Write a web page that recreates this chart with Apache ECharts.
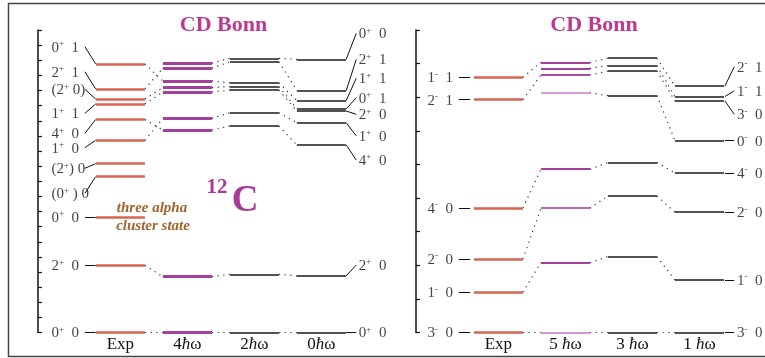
<!DOCTYPE html>
<html>
<head>
<meta charset="utf-8">
<script src="https://cdn.jsdelivr.net/npm/echarts@6/dist/echarts.min.js"></script>
<style>
html,body{margin:0;padding:0;background:#fff;}
#chart{width:765px;height:358px;}
</style>
</head>
<body>
<div id="chart"></div>
<script>
// positive parity levels of 12C, excitation energy in MeV
let colsPos = ['Exp', '4{h|ħ}ω', '2{h|ħ}ω', '0{h|ħ}ω'];
let expPos = [17.76, 16.11, 15.44, 15.11, 14.08, 12.71, 11.16, 10.30, 7.65, 4.44, 0];
let fourPos = [17.80, 17.47, 16.63, 16.19, 15.90, 14.16, 13.39, 3.69, 0];
let twoPos = [18.13, 17.90, 16.50, 16.26, 16.03, 14.53, 13.65, 3.85, 0];
let zeroPos = [18.06, 15.99, 15.33, 14.78, 14.64, 13.87, 12.40, 3.74, 0];
let expPosLab = ['0+  1', '2+  1', '(2+ 0)', '1+  1', '4+  0', '1+  0', '(2+) 0', '(0+ ) 0', '0+  0', '2+  0', '0+  0'];
let expPosLabE = [18.90, 17.24, 16.08, 14.49, 13.17, 12.22, 10.86, 9.20, 7.65, 4.44, 0];
let zeroPosLab = ['0+  0', '2+  1', '1+  1', '0+  1', '2+  0', '1+  0', '4+  0', '2+  0', '0+  0'];
let zeroPosLabE = [19.78, 18.06, 16.81, 15.52, 14.43, 13.00, 11.40, 4.46, 0];
// which level joins which in the next column
let linksPos = [
    [[0, 2], [1, 1], [2, 3], [3, 4], [4, 6], [5, 5], [9, 7], [10, 8]],
    [[0, 0], [1, 1], [2, 2], [3, 3], [4, 4], [5, 5], [6, 6], [7, 7], [8, 8]],
    [[0, 0], [1, 1], [2, 2], [3, 3], [4, 4], [5, 5], [6, 6], [7, 7], [8, 8]]
];

// negative parity levels, MeV above the 3- state
let colsNeg = ['Exp', '5 {h|ħ}ω', '3 {h|ħ}ω', '1 {h|ħ}ω'];
let expNeg = [7.59, 6.93, 3.71, 2.19, 1.20, 0];
let fiveNeg = [8.04, 7.86, 7.66, 7.13, 4.86, 3.70, 2.08, 0];
let threeNeg = [8.16, 7.94, 7.78, 7.05, 5.06, 4.06, 2.26, 0];
let oneNeg = [7.33, 7.02, 6.89, 5.71, 4.75, 3.58, 1.56, 0];
let expNegLab = ['1-  1', '2-  1', '4-  0', '2-  0', '1-  0', '3-  0'];
let oneNegLab = ['2-  1', '1-  1', '3-  0', '0-  0', '4-  0', '2-  0', '1-  0', '3-  0'];
let oneNegLabE = [7.91, 7.19, 6.49, 5.71, 4.75, 3.58, 1.56, 0];
let linksNeg = [
    [[0, 0], [1, 2], [2, 4], [3, 5], [4, 6], [5, 7]],
    [[0, 0], [1, 1], [2, 2], [3, 3], [4, 4], [5, 5], [6, 6], [7, 7]],
    [[0, 0], [1, 1], [2, 2], [3, 3], [4, 4], [5, 5], [6, 6], [7, 7]]
];

const HW = 0.366;
const SERIF = '"Liberation Serif", "DejaVu Serif", serif';
let fiveTone = ['#a83d9f', '#a83d9f', '#b04aa6', '#d8a0d2', '#a83d9f', '#c064b6', '#a83d9f', '#d494cc'];
let stylesPos = [{color: '#d9644e', width: 2.6}, {color: '#a3409c', width: 3}, {color: '#1a1a1a', width: 1.5}, {color: '#1a1a1a', width: 1.5}];
let stylesNeg = [{color: '#d9644e', width: 2.6}, {color: fiveTone, width: 2}, {color: '#1a1a1a', width: 1.5}, {color: '#1a1a1a', width: 1.5}];

function levelSeries(p, columns, links, styles) {
    let lv = [], cn = [];
    columns.forEach(function (col, c) {
        col.forEach(function (e, i) {
            let st = styles[c];
            lv.push({coords: [[c - HW, e], [c + HW, e]],
                lineStyle: {color: Array.isArray(st.color) ? st.color[i] : st.color, width: st.width, opacity: 1}});
        });
    });
    links.forEach(function (pairs, c) {
        pairs.forEach(function (pr) {
            cn.push({coords: [[c + HW, columns[c][pr[0]]], [c + 1 - HW, columns[c + 1][pr[1]]]]});
        });
    });
    return [{
        type: 'lines', coordinateSystem: 'cartesian2d', xAxisIndex: p, yAxisIndex: p, silent: true, z: 2, clip: false,
        data: cn, lineStyle: {color: '#333', width: 1.2, type: [1.2, 4.5], opacity: 1}
    }, {
        type: 'lines', coordinateSystem: 'cartesian2d', xAxisIndex: p, yAxisIndex: p, silent: true, z: 3, clip: false,
        data: lv, lineStyle: {opacity: 1}
    }];
}

function leaderSeries(p, x0, e0, x1, e1) {
    return {
        type: 'lines', coordinateSystem: 'cartesian2d', xAxisIndex: p, yAxisIndex: p, silent: true, z: 3, clip: false,
        data: e0.map(function (e, i) { return {coords: [[x0, e], [x1, e1[i]]]}; }),
        lineStyle: {color: '#111', width: 1, opacity: 1}
    };
}

function richText(s) {
    return '{n|' + s.replace(/([+-])/g, '}{s|$1}{n|') + '}';
}

function labelSeries(p, x, names, labE) {
    return {
        type: 'scatter', xAxisIndex: p, yAxisIndex: p, silent: true, clip: false, symbolSize: 1,
        itemStyle: {color: 'transparent'},
        data: labE.map(function (e, i) { return {value: [x, e], name: names[i]}; }),
        label: {
            show: true, position: 'right', distance: 0, offset: [0, 1],
            formatter: function (d) { return richText(d.name); },
            rich: {
                n: {fontSize: 15, fontFamily: SERIF, color: '#111', lineHeight: 17},
                s: {fontSize: 9, fontFamily: SERIF, color: '#111', verticalAlign: 'top'}
            }
        }
    };
}

function xAxisFor(g, max, names) {
    return {
        gridIndex: g, type: 'value', min: -1.23, max: max,
        axisLine: {show: false, onZero: false}, axisTick: {show: false}, splitLine: {show: false},
        axisLabel: {
            show: true, customValues: [0, 1, 2, 3], margin: 4,
            fontSize: 17, fontFamily: SERIF, color: '#111',
            formatter: function (v) { return names[Math.round(v)]; },
            rich: {h: {fontSize: 17, fontFamily: SERIF, fontStyle: 'italic', color: '#111'}}
        }
    };
}

function yAxisFor(g, max) {
    return {
        gridIndex: g, type: 'value', min: 0, max: max, interval: 1,
        axisLine: {show: true, onZero: false, lineStyle: {color: '#111', width: 1.5}},
        axisTick: {show: true, inside: true, length: 4, lineStyle: {color: '#111', width: 1.2}},
        axisLabel: {show: false}, splitLine: {show: false}
    };
}

let myChart = echarts.init(document.getElementById('chart'), null, {renderer: 'canvas'});

let series = [].concat(
    levelSeries(0, [expPos, fourPos, twoPos, zeroPos], linksPos, stylesPos),
    levelSeries(1, [expNeg, fiveNeg, threeNeg, oneNeg], linksNeg, stylesNeg),
    [
        leaderSeries(0, -0.53, expPosLabE, -0.37, expPos),
        leaderSeries(0, 3.37, zeroPos, 3.52, zeroPosLabE),
        leaderSeries(1, -0.59, expNeg, -0.42, expNeg),
        leaderSeries(1, 3.38, oneNeg, 3.52, oneNegLabE),
        labelSeries(0, -1.036, expPosLab, expPosLabE),
        labelSeries(0, 3.551, zeroPosLab, zeroPosLabE),
        labelSeries(1, -1.066, expNegLab, expNeg),
        labelSeries(1, 3.554, oneNegLab, oneNegLabE)
    ]
);

let option = {
    backgroundColor: '#fff',
    animation: false,
    grid: [
        {left: 38, top: 30, width: 350.4, height: 302.5},
        {left: 416, top: 30, width: 347.1, height: 302.5}
    ],
    xAxis: [xAxisFor(0, 4.0, colsPos), xAxisFor(1, 3.95, colsNeg)],
    yAxis: [yAxisFor(0, 20), yAxisFor(1, 9)],
    graphic: [
        {type: 'polyline', silent: true, shape: {points: [[765, 3.5], [8.5, 3.5], [8.5, 356.5], [765, 356.5]]},
            style: {stroke: '#444', lineWidth: 1.5, fill: null}},
        {type: 'text', x: 223.5, y: 25, silent: true,
            style: {text: 'CD Bonn', align: 'center', verticalAlign: 'middle', fontSize: 22, fontWeight: 'bold', fontFamily: SERIF, fill: '#bf3a8e'}},
        {type: 'text', x: 594, y: 25, silent: true,
            style: {text: 'CD Bonn', align: 'center', verticalAlign: 'middle', fontSize: 22, fontWeight: 'bold', fontFamily: SERIF, fill: '#bf3a8e'}},
        {type: 'text', x: 217, y: 188, silent: true,
            style: {text: '12', align: 'center', verticalAlign: 'middle', fontSize: 21, fontWeight: 'bold', fontFamily: SERIF, fill: '#a83a98'}},
        {type: 'text', x: 245, y: 201, silent: true,
            style: {text: 'C', align: 'center', verticalAlign: 'middle', fontSize: 37, fontWeight: 'bold', fontFamily: SERIF, fill: '#a83a98'}},
        {type: 'text', x: 152, y: 208, silent: true,
            style: {text: 'three alpha', align: 'center', verticalAlign: 'middle', fontSize: 15, fontWeight: 'bold', fontStyle: 'italic', fontFamily: SERIF, fill: '#a0642e'}},
        {type: 'text', x: 153, y: 226, silent: true,
            style: {text: 'cluster state', align: 'center', verticalAlign: 'middle', fontSize: 15, fontWeight: 'bold', fontStyle: 'italic', fontFamily: SERIF, fill: '#a0642e'}}
    ],
    series: series
};
myChart.setOption(option);
</script>
</body>
</html>
